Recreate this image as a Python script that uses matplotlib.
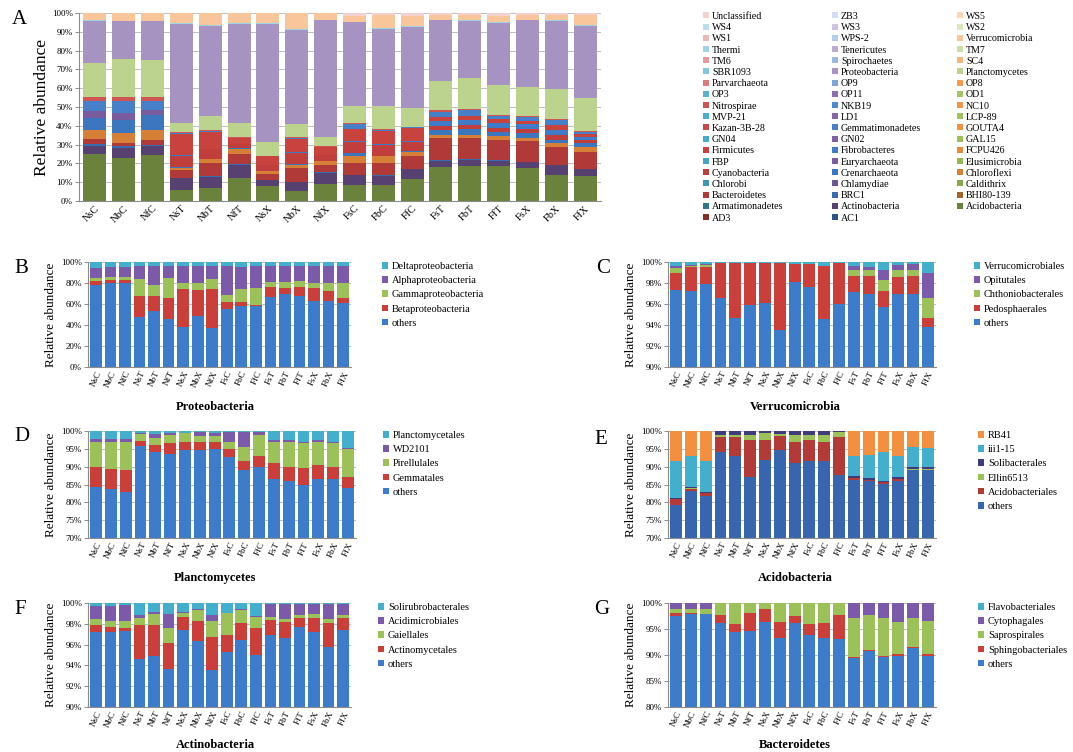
import numpy as np
import matplotlib
matplotlib.use('Agg')
import matplotlib.pyplot as plt
from matplotlib.patches import Patch
from matplotlib.ticker import FuncFormatter, MultipleLocator
import matplotlib.colors as mcolors

plt.rcParams['font.family'] = ['Liberation Serif', 'DejaVu Serif']

SAMPLES = ['NsC', 'NbC', 'NfC', 'NsT', 'NbT', 'NfT', 'NsX', 'NbX', 'NfX',
           'FsC', 'FbC', 'FfC', 'FsT', 'FbT', 'FfT', 'FsX', 'FbX', 'FfX']

# ---------------- Panel A: phylum level (bottom -> top stacking order) ----------------
PHYLA = ['AC1', 'AD3', 'Acidobacteria', 'Actinobacteria', 'Armatimonadetes', 'BHI80-139',
         'BRC1', 'Bacteroidetes', 'Caldithrix', 'Chlamydiae', 'Chlorobi', 'Chloroflexi',
         'Crenarchaeota', 'Cyanobacteria', 'Elusimicrobia', 'Euryarchaeota', 'FBP', 'FCPU426',
         'Fibrobacteres', 'Firmicutes', 'GAL15', 'GN02', 'GN04', 'GOUTA4',
         'Gemmatimonadetes', 'Kazan-3B-28', 'LCP-89', 'LD1', 'MVP-21', 'NC10',
         'NKB19', 'Nitrospirae', 'OD1', 'OP11', 'OP3', 'OP8',
         'OP9', 'Parvarchaeota', 'Planctomycetes', 'Proteobacteria', 'SBR1093', 'SC4',
         'Spirochaetes', 'TM6', 'TM7', 'Tenericutes', 'Thermi', 'Verrucomicrobia',
         'WPS-2', 'WS1', 'WS2', 'WS3', 'WS4', 'WS5', 'ZB3', 'Unclassified']

ACIDOBACTERIA = [25, 23, 24.5, 6, 7, 12.5, 8, 5.5, 9, 8.5, 8.5, 12, 18, 18.5, 18.5, 17.5, 14, 13.5]
ACTINOBACTERIA = [4.5, 5, 4.5, 6, 6, 6.5, 3, 4.5, 6, 5, 5, 5, 3.5, 3.5, 3, 3, 5, 3.5]
BRC1 = [1, 1, 1, 0.3, 0.3, 1, 0.3, 0.3, 0.3, 0.3, 0.3, 0.3, 0.3, 0.3, 0.5, 0.3, 0.3, 0.3]
BACTEROIDETES = [2.5, 2, 2.5, 4, 7, 5, 3, 7, 4, 6.5, 6.5, 6.5, 11.5, 11, 10.5, 11, 9.5, 9]
CHLOROFLEXI = [5, 5, 5.5, 1.5, 2, 3, 1.5, 2, 2, 3.5, 3.5, 2.5, 2, 2, 2, 2, 2, 2.5]
CRENARCHAEOTA = [6, 7, 8, 0.2, 0.2, 0.2, 0.2, 0.2, 0.2, 1.5, 0.3, 0.2, 2.5, 3, 2.5, 2.5, 2, 2]
CYANOBACTERIA = [0, 0, 0, 6, 5, 2, 3, 6, 3, 6, 6, 5, 2, 2, 2, 2, 2.5, 2]
EURYARCHAEOTA = [4, 4, 2.5, 0, 0, 0, 0, 0, 0, 0, 0, 0, 0, 0, 0, 0, 0, 0]
FIBROBACTERES = [0, 0, 0, 0.3, 0.3, 0.3, 0.2, 0.3, 0.3, 0.5, 0.5, 0.5, 3, 3, 2.5, 2.5, 2.5, 1.5]
FIRMICUTES = [0, 0, 0, 11.5, 9, 3, 4.5, 7, 4, 6.5, 6.5, 7, 2, 2, 2, 2, 3, 1.5]
GEMMATIMONADETES = [5, 6, 4.5, 0.3, 0.5, 0.3, 0.2, 0.8, 0.2, 2.5, 1, 0.3, 2.5, 3, 2, 2, 2.5, 1]
NITROSPIRAE = [2.5, 2.5, 2.5, 0.5, 0.5, 0.3, 0.3, 0.5, 0.3, 0.3, 0.3, 0.2, 1, 0.8, 0.5, 0.5, 0.7, 0.5]
PLANCTOMYCETES = [18, 20, 19.5, 5, 7.5, 7.5, 7, 7, 5, 9, 12, 10, 15.5, 16.2, 16, 15.5, 15.5, 18]
PROTEOBACTERIA = [22.5, 20, 20.5, 52.5, 47.5, 53, 63, 50, 62.5, 44.5, 41.5, 43.5, 32.5, 30.7, 33, 35.5, 36.5, 38.5]
THERMI = [0.5, 0.5, 0.5, 0.5, 0.5, 0.3, 0.3, 0.3, 0.3, 0.3, 0.3, 0.3, 0.3, 0.3, 0.3, 0.3, 0.3, 0.3]
VERRUCOMICROBIA = [3.5, 4, 4, 5.5, 6.5, 5.5, 5.5, 8.5, 3.5, 3, 7, 5.5, 2.5, 2.7, 3.5, 2.7, 3, 5.5]
UNCLASSIFIED = [0, 0, 0, 0, 0, 0, 0, 0, 0, 1.5, 1, 1.5, 1, 1, 1.5, 0.8, 1, 1]

PHYLUM_VALUES = {
    'Acidobacteria': ACIDOBACTERIA, 'Actinobacteria': ACTINOBACTERIA, 'BRC1': BRC1,
    'Bacteroidetes': BACTEROIDETES, 'Chloroflexi': CHLOROFLEXI, 'Crenarchaeota': CRENARCHAEOTA,
    'Cyanobacteria': CYANOBACTERIA, 'Euryarchaeota': EURYARCHAEOTA, 'Fibrobacteres': FIBROBACTERES,
    'Firmicutes': FIRMICUTES, 'Gemmatimonadetes': GEMMATIMONADETES, 'Nitrospirae': NITROSPIRAE,
    'Planctomycetes': PLANCTOMYCETES, 'Proteobacteria': PROTEOBACTERIA, 'Thermi': THERMI,
    'Verrucomicrobia': VERRUCOMICROBIA, 'Unclassified': UNCLASSIFIED,
}

# Office palette and per-group brightness (Excel style colour cycling)
BASE = ['#3F7BC6', '#C8423E', '#9CBF58', '#7E60A6', '#45ADCA', '#F3913F']
GROUP_SHIFT = [-0.32, -0.12, -0.04, 0.0, 0.04, 0.1, 0.32, 0.48, 0.62, 0.76]


def shifted(hexcol, f):
    c = np.array(mcolors.to_rgb(hexcol))
    if f < 0:
        c = c * (1 + f)
    else:
        c = c + (1 - c) * f
    return tuple(np.clip(c, 0, 1))


PHYLUM_COLORS = [shifted(BASE[i % 6], GROUP_SHIFT[i // 6]) for i in range(len(PHYLA))]

# ---------------- Panels B-G: class / order level (upper level of each layer, %) ----------------
PROTEO_LABELS = ['others', 'Betaproteobacteria', 'Gammaproteobacteria', 'Alphaproteobacteria', 'Deltaproteobacteria']
PROTEO_OTHERS = [78.5, 80, 80, 48, 53.5, 46, 38, 49, 37.5, 55, 58.5, 58.5, 67, 69.5, 67.5, 63, 63, 61]
PROTEO_BETA = [82, 83, 83, 67.5, 68, 66, 74, 73.5, 74, 61.5, 61.5, 59.5, 76, 75, 76, 75, 72, 66]
PROTEO_GAMMA = [85, 86, 85.5, 84, 78, 85, 80, 80, 84, 69, 74, 75, 81, 81, 81.5, 80, 80, 80]
PROTEO_ALPHA = [94, 95, 95, 96, 96, 96, 96, 96, 96, 96, 95.5, 96, 96, 96, 96, 96, 96, 96]
PROTEO_DELTA = [100] * 18

VERRU_LABELS = ['others', 'Pedosphaerales', 'Chthoniobacterales', 'Opitutales', 'Verrucomicrobiales']
VERRU_OTHERS = [97.3, 97.2, 97.9, 96.6, 94.7, 95.9, 96.1, 93.5, 98.1, 97.6, 94.6, 96.0, 97.1, 97.0, 95.7, 97.0, 97.0, 93.8]
VERRU_PEDO = [99.0, 99.5, 99.5, 99.9, 99.9, 99.9, 99.9, 99.9, 99.8, 99.8, 99.6, 99.9, 98.7, 98.7, 97.2, 98.6, 98.7, 94.7]
VERRU_CHTHO = [99.4, 99.6, 99.7, 99.9, 99.9, 99.9, 99.9, 99.9, 99.8, 99.8, 99.6, 99.9, 99.2, 99.2, 98.3, 99.2, 99.2, 96.6]
VERRU_OPIT = [99.6, 99.7, 99.8, 99.9, 99.9, 99.9, 99.9, 99.9, 99.85, 99.85, 99.65, 99.9, 99.65, 99.5, 99.2, 99.7, 99.8, 99.0]
VERRU_VERR = [100] * 18

PLANC_LABELS = ['others', 'Gemmatales', 'Pirellulales', 'WD2101', 'Planctomycetales']
PLANC_OTHERS = [84.2, 83.8, 82.8, 95.8, 94, 93.5, 94.7, 94.8, 95, 92.8, 89, 89.8, 86.5, 86, 85, 86.5, 86.5, 84]
PLANC_GEMM = [89.8, 89.3, 89, 97.3, 96, 96.5, 97, 96.9, 96.9, 95, 91.5, 93, 91, 90, 89.5, 90.5, 90, 87]
PLANC_PIREL = [97, 97, 97, 99.1, 98, 98.8, 99.4, 98.6, 98.6, 96.9, 95.5, 99, 97, 97, 96.5, 97, 96.5, 95]
PLANC_WD = [97.8, 97.7, 97.7, 99.3, 99.2, 99.3, 99.5, 99.7, 99.3, 99.8, 99.8, 99.8, 97.5, 97.5, 97, 97.5, 97, 95.2]
PLANC_PLANC = [100] * 18

ACIDO_LABELS = ['others', 'Acidobacteriales', 'Ellin6513', 'Solibacterales', 'iii1-15', 'RB41']
ACIDO_OTHERS = [79.3, 83.1, 81.9, 94, 93, 87, 92, 94.8, 91, 91.5, 91.5, 87.8, 86.2, 86, 85.2, 86, 89, 89]
ACIDO_ACIDOB = [80.8, 83.8, 82.5, 98.3, 98.3, 97.5, 97.5, 98.5, 97, 97.5, 97, 98.3, 86.8, 86.3, 85.6, 86.5, 89.2, 89.2]
ACIDO_ELLIN = [81, 84, 82.7, 98.9, 99, 99, 99.3, 99.2, 98.8, 99, 98.8, 99.8, 86.9, 86.4, 85.7, 86.6, 89.3, 89.3]
ACIDO_SOLIB = [81.2, 84.2, 82.9, 100, 100, 100, 100, 100, 100, 100, 100, 100, 87.3, 86.8, 86.1, 87, 89.8, 89.8]
ACIDO_III = [91.7, 92.9, 91.7, 100, 100, 100, 100, 100, 100, 100, 100, 100, 93, 93.2, 94, 93, 95.5, 95.3]
ACIDO_RB41 = [100] * 18

ACTINO_LABELS = ['others', 'Actinomycetales', 'Gaiellales', 'Acidimicrobiales', 'Solirubrobacterales']
ACTINO_OTHERS = [97.2, 97.2, 97.3, 94.6, 94.9, 93.7, 97.4, 96.3, 93.6, 95.3, 96.4, 95.0, 96.9, 96.6, 97.7, 97.2, 95.8, 97.4]
ACTINO_ACTM = [97.9, 97.7, 97.6, 97.9, 97.9, 96.2, 98.7, 98.3, 96.7, 96.9, 98.1, 97.6, 98.4, 98.2, 98.6, 98.6, 98.1, 98.6]
ACTINO_GAIE = [98.5, 98.3, 98.3, 98.6, 98.9, 97.6, 99.0, 99.3, 98.3, 99.0, 99.3, 98.7, 98.7, 98.5, 98.8, 98.9, 98.5, 98.8]
ACTINO_ACIM = [99.7, 99.7, 99.8, 98.8, 99.1, 98.9, 99.1, 99.4, 98.8, 99.05, 99.4, 98.75, 99.9, 99.9, 99.9, 99.9, 99.9, 99.9]
ACTINO_SOLI = [100] * 18

BACTE_LABELS = ['others', 'Sphingobacteriales', 'Saprospirales', 'Cytophagales', 'Flavobacteriales']
BACTE_OTHERS = [97.5, 97.9, 97.8, 96.1, 94.4, 94.6, 96.3, 93.2, 96.2, 93.8, 93.2, 93.0, 89.4, 90.8, 89.6, 89.8, 91.3, 89.9]
BACTE_SPHI = [98.0, 98.1, 97.9, 97.7, 95.9, 98.1, 98.9, 96.3, 97.5, 95.9, 96.2, 97.6, 89.7, 91.0, 89.8, 90.1, 91.5, 90.1]
BACTE_SAPR = [98.9, 98.9, 98.8, 100, 100, 100, 100, 100, 100, 100, 100, 100, 97.2, 97.6, 97.1, 96.4, 97.1, 96.6]
BACTE_CYTO = [100] * 18
BACTE_FLAV = [100] * 18

C_BLUE, C_RED, C_GREEN, C_PURPLE, C_AQUA = '#3D7CCB', '#CB3F3B', '#9CC158', '#7B5AA9', '#43AFCC'

W, H = 1073, 752
fig = plt.figure(figsize=(W / 100, H / 100), dpi=100)


def px_axes(x0, y0, x1, y1):
    return fig.add_axes([x0 / W, 1 - y1 / H, (x1 - x0) / W, (y1 - y0) / H])


def style_axes(ax, ymin, ymax, step, rot, lab_fs, tick_fs, ylab_fs, labelpad):
    ax.set_xlim(-0.55, len(SAMPLES) - 0.45)
    ax.set_ylim(ymin, ymax)
    ax.yaxis.set_major_locator(MultipleLocator(step))
    ax.yaxis.set_major_formatter(FuncFormatter(lambda v, p: f'{v:.0f}%'))
    ax.grid(axis='y', color='#BFBFBF', linewidth=0.7)
    ax.set_axisbelow(True)
    for s in ['top', 'right']:
        ax.spines[s].set_visible(False)
    for s in ['left', 'bottom']:
        ax.spines[s].set_color('#8C8C8C')
        ax.spines[s].set_linewidth(0.8)
    ax.tick_params(axis='y', length=3, width=0.7, color='#8C8C8C', labelsize=tick_fs, pad=1.5)
    ax.tick_params(axis='x', length=0, labelsize=lab_fs, pad=2)
    ax.set_xticks(range(len(SAMPLES)))
    ax.set_xticklabels(SAMPLES, rotation=rot, ha='right', rotation_mode='anchor')
    ax.set_ylabel('Relative abundance', fontsize=ylab_fs, labelpad=labelpad)


BAR_W = 0.8

# ---------------- Panel A ----------------
axA = px_axes(79, 13, 601, 201)
totals = np.zeros(len(SAMPLES))
for name in PHYLA:
    if name in PHYLUM_VALUES:
        totals += np.array(PHYLUM_VALUES[name], float)
bottom = np.zeros(len(SAMPLES))
handles = []
for name, col in zip(PHYLA, PHYLUM_COLORS):
    vals = np.array(PHYLUM_VALUES.get(name, [0] * len(SAMPLES)), float) / totals * 100
    axA.bar(range(len(SAMPLES)), vals, bottom=bottom, width=BAR_W, color=col, linewidth=0)
    bottom += vals
    handles.append(Patch(facecolor=col, label=name))
style_axes(axA, 0, 100, 10, 45, 7.5, 6.5, 12.5, 1)
fig.text(12 / W, 1 - 20 / H, 'A', fontsize=15, va='center', ha='left')

legend_order = handles[::-1]
col_x = [703, 832, 957]
for c in range(3):
    fig.legend(handles=legend_order[c::3], loc='upper left',
               bbox_to_anchor=(col_x[c] / W, 1 - 12 / H), frameon=False, fontsize=7.2,
               handlelength=0.55, handleheight=0.55, handletextpad=0.35,
               labelspacing=0.22, borderaxespad=0, borderpad=0)


# ---------------- Panels B-G ----------------
def level_panel(box, levels, labels, colors, ymin, ymax, step, letter, letter_xy,
                title, title_xy, leg_xy):
    ax = px_axes(*box)
    prev = np.zeros(len(SAMPLES))
    hs = []
    for lev, lab, col in zip(levels, labels, colors):
        lev = np.array(lev, float)
        ax.bar(range(len(SAMPLES)), lev - prev, bottom=prev, width=BAR_W, color=col, linewidth=0)
        prev = lev
        hs.append(Patch(facecolor=col, label=lab))
    style_axes(ax, ymin, ymax, step, 65, 6.5, 6.5, 9.5, 3)
    fig.text(letter_xy[0] / W, 1 - letter_xy[1] / H, letter, fontsize=15, va='center', ha='left')
    fig.text(title_xy[0] / W, 1 - title_xy[1] / H, title, fontsize=9, fontweight='bold',
             va='center', ha='center')
    fig.legend(handles=hs[::-1], loc='upper left', bbox_to_anchor=(leg_xy[0] / W, 1 - leg_xy[1] / H),
               frameon=False, fontsize=7.5, handlelength=0.6, handleheight=0.6, handletextpad=0.35,
               labelspacing=0.5, borderaxespad=0, borderpad=0)
    return ax


level_panel((88, 262, 351, 367),
            [PROTEO_OTHERS, PROTEO_BETA, PROTEO_GAMMA, PROTEO_ALPHA, PROTEO_DELTA],
            PROTEO_LABELS, [C_BLUE, C_RED, C_GREEN, C_PURPLE, C_AQUA],
            0, 100, 20, 'B', (14, 268), 'Proteobacteria', (215, 407), (382, 262))

level_panel((668, 262, 936, 367),
            [VERRU_OTHERS, VERRU_PEDO, VERRU_CHTHO, VERRU_OPIT, VERRU_VERR],
            VERRU_LABELS, [C_BLUE, C_RED, C_GREEN, C_PURPLE, C_AQUA],
            90, 100, 2, 'C', (596, 268), 'Verrucomicrobia', (795, 407), (974, 262))

level_panel((88, 431, 356, 538),
            [PLANC_OTHERS, PLANC_GEMM, PLANC_PIREL, PLANC_WD, PLANC_PLANC],
            PLANC_LABELS, [C_BLUE, C_RED, C_GREEN, C_PURPLE, C_AQUA],
            70, 100, 5, 'D', (14, 437), 'Planctomycetes', (215, 578), (383, 431))

level_panel((668, 431, 936, 538),
            [ACIDO_OTHERS, ACIDO_ACIDOB, ACIDO_ELLIN, ACIDO_SOLIB, ACIDO_III, ACIDO_RB41],
            ACIDO_LABELS, ['#3866AE', '#B23A37', '#9CC158', '#3E3C7C', '#43AFCC', '#F2903F'],
            70, 100, 5, 'E', (594, 440), 'Acidobacteria', (795, 578), (978, 431))

level_panel((88, 603, 351, 707),
            [ACTINO_OTHERS, ACTINO_ACTM, ACTINO_GAIE, ACTINO_ACIM, ACTINO_SOLI],
            ACTINO_LABELS, [C_BLUE, C_RED, C_GREEN, C_PURPLE, C_AQUA],
            90, 100, 2, 'F', (14, 609), 'Actinobacteria', (215, 745), (378, 603))

level_panel((668, 603, 936, 707),
            [BACTE_OTHERS, BACTE_SPHI, BACTE_SAPR, BACTE_CYTO, BACTE_FLAV],
            BACTE_LABELS, [C_BLUE, C_RED, C_GREEN, C_PURPLE, C_AQUA],
            80, 100, 5, 'G', (594, 609), 'Bacteroidetes', (795, 745), (978, 603))

fig.savefig('out.png', dpi=100)
